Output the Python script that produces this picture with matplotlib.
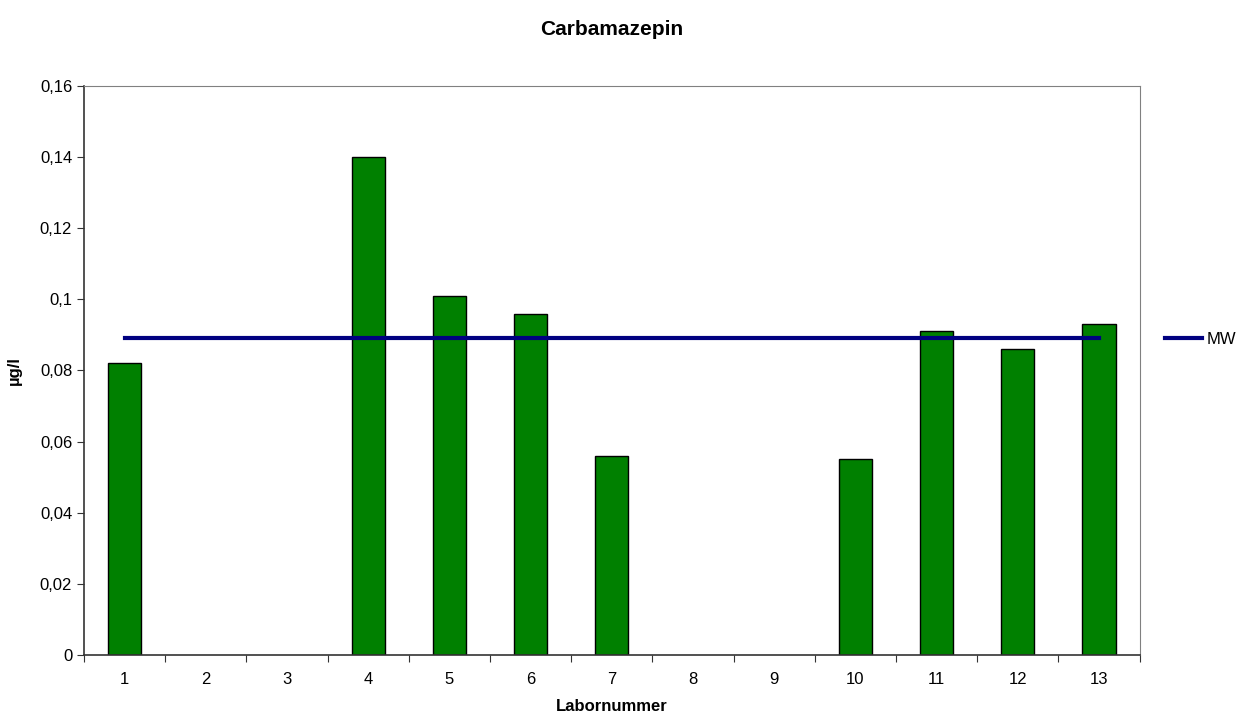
import numpy as np
import matplotlib.pyplot as plt

plt.rcParams['font.family'] = ['Liberation Sans', 'DejaVu Sans']

labs = [1, 2, 3, 4, 5, 6, 7, 8, 9, 10, 11, 12, 13]
werte = [0.082, np.nan, np.nan, 0.140, 0.101, 0.096, 0.056, np.nan, np.nan, 0.055, 0.091, 0.086, 0.093]
mw = 0.089

fig = plt.figure(figsize=(12.36, 7.14), dpi=100)
ax = fig.add_axes([0.068, 0.0826, 0.854, 0.797])

x = np.arange(1, len(labs) + 1)
ax.bar(x, werte, width=0.41, color='#008000', edgecolor='black', linewidth=1.0, zorder=2)
ax.plot([x[0], x[-1]], [mw, mw], color='#000080', linewidth=3, label='MW', zorder=3)

ax.set_xlim(0.5, len(labs) + 0.5)
ax.set_ylim(0, 0.16)
ax.set_yticks(np.arange(0, 0.161, 0.02))
ax.set_yticklabels(['0', '0,02', '0,04', '0,06', '0,08', '0,1', '0,12', '0,14', '0,16'])

# tick marks between categories, labels centred under bars
ax.set_xticks(np.arange(0.5, len(labs) + 1, 1))
ax.set_xticklabels([])
ax.set_xticks(x, minor=True)
ax.set_xticklabels([str(l) for l in labs], minor=True)
ax.tick_params(axis='x', which='minor', length=0, pad=12, labelsize=12)
ax.tick_params(axis='x', which='major', length=5, direction='out', color='#333333')
ax.tick_params(axis='y', length=5, direction='out', color='#333333', labelsize=12)

for s in ['top', 'right']:
    ax.spines[s].set_color('#808080')
for s in ['left', 'bottom']:
    ax.spines[s].set_color('#333333')
    ax.spines[s].set_linewidth(1.2)

ax.set_title('Carbamazepin', fontsize=15, fontweight='bold', y=1.085, va='center')
ax.set_xlabel('Labornummer', fontsize=12, fontweight='bold', va='center')
ax.xaxis.set_label_coords(0.5, -0.0896)
ax.set_ylabel('µg/l', fontsize=12, fontweight='bold', va='center')
ax.yaxis.set_label_coords(-0.0663, 0.5)

ax.legend(loc='center left', bbox_to_anchor=(1.01, 0.555), frameon=False,
          fontsize=12, handlelength=2.2, handletextpad=0.3)

fig.savefig('out.png', dpi=100)
